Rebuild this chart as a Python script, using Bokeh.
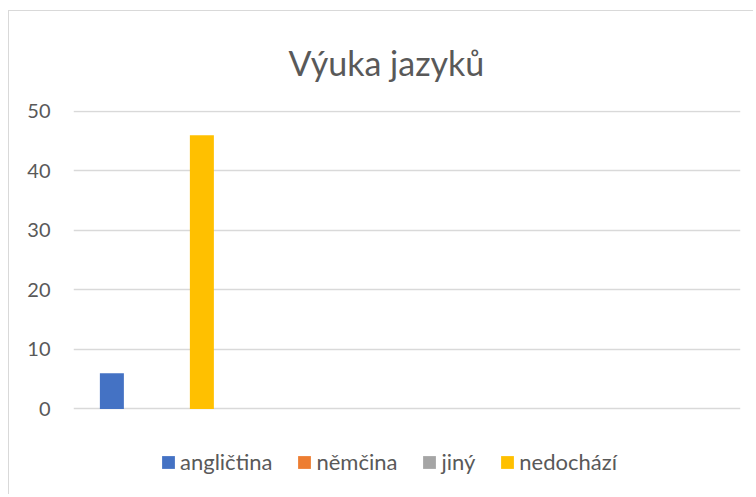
from bokeh.plotting import figure
from bokeh.models import Legend, LegendItem, Range1d
from bokeh.embed import file_html
from bokeh.resources import INLINE

categories = ["angličtina", "němčina", "jiný", "nedochází"]
values = [6, 0, 0, 46]
colors = ["#4472C4", "#ED7D31", "#A5A5A5", "#FFC000"]
y_ticks = [0, 10, 20, 30, 40, 50]
n_groups = 4   # category slots on the (unlabelled) x axis

FONT = "Lato"
W, H = 745, 484
TOP, BOTTOM = 97, 8            # frame borders (px)
Y0_PX, Y50_PX = 397, 98        # pixel rows of value 0 and 50 inside the figure
ppu = (Y0_PX - Y50_PX) / 50.0
y_start = -((H - BOTTOM) - Y0_PX) / ppu
y_end = 50 + (Y50_PX - TOP) / ppu

p = figure(width=W, height=H, output_backend="svg", toolbar_location=None,
           x_range=Range1d(0, n_groups), y_range=Range1d(y_start, y_end),
           min_border_left=64, min_border_right=14, min_border_top=TOP, min_border_bottom=BOTTOM)
p.styles = {"border-left": "1px solid #d9d9d9", "border-top": "1px solid #d9d9d9",
            "margin-left": "8px", "margin-top": "10px"}
p.outline_line_color = None
p.xaxis.visible = False
p.xgrid.visible = False
p.ygrid.grid_line_color = "#d9d9d9"
p.ygrid.grid_line_width = 1.5
p.yaxis.ticker = y_ticks
p.yaxis.axis_line_color = None
p.yaxis.major_tick_line_color = None
p.yaxis.minor_tick_line_color = None
p.yaxis.major_label_text_font = FONT
p.yaxis.major_label_text_font_size = "20px"
p.yaxis.major_label_text_color = "#595959"
p.yaxis.major_label_standoff = 17

p.title.text = "Výuka jazyků"
p.title.text_font = FONT
p.title.text_font_size = "34px"
p.title.text_font_style = "normal"
p.title.text_color = "#595959"
p.title.align = "left"
p.title.offset = 215
p.title.standoff = 56

cat_px = 667 / n_groups
step = 30 / cat_px
width = 24 / cat_px
items = []
for i, (cat, v, c) in enumerate(zip(categories, values, colors)):
    x = 0.5 + (i - 1.5) * step
    r = p.vbar(x=[x], top=[v], bottom=0, width=width, fill_color=c, line_color=None)
    items.append(LegendItem(label=cat, renderers=[r]))

legend = Legend(items=items, orientation="horizontal", location=(87, 12),
                label_text_font=FONT, label_text_font_size="22px", label_text_color="#595959",
                glyph_width=16, glyph_height=16, label_standoff=4, spacing=24,
                border_line_color=None, background_fill_alpha=0, padding=0, margin=0)
p.add_layout(legend, "center")

open("out.html", "w").write(file_html(p, INLINE))
